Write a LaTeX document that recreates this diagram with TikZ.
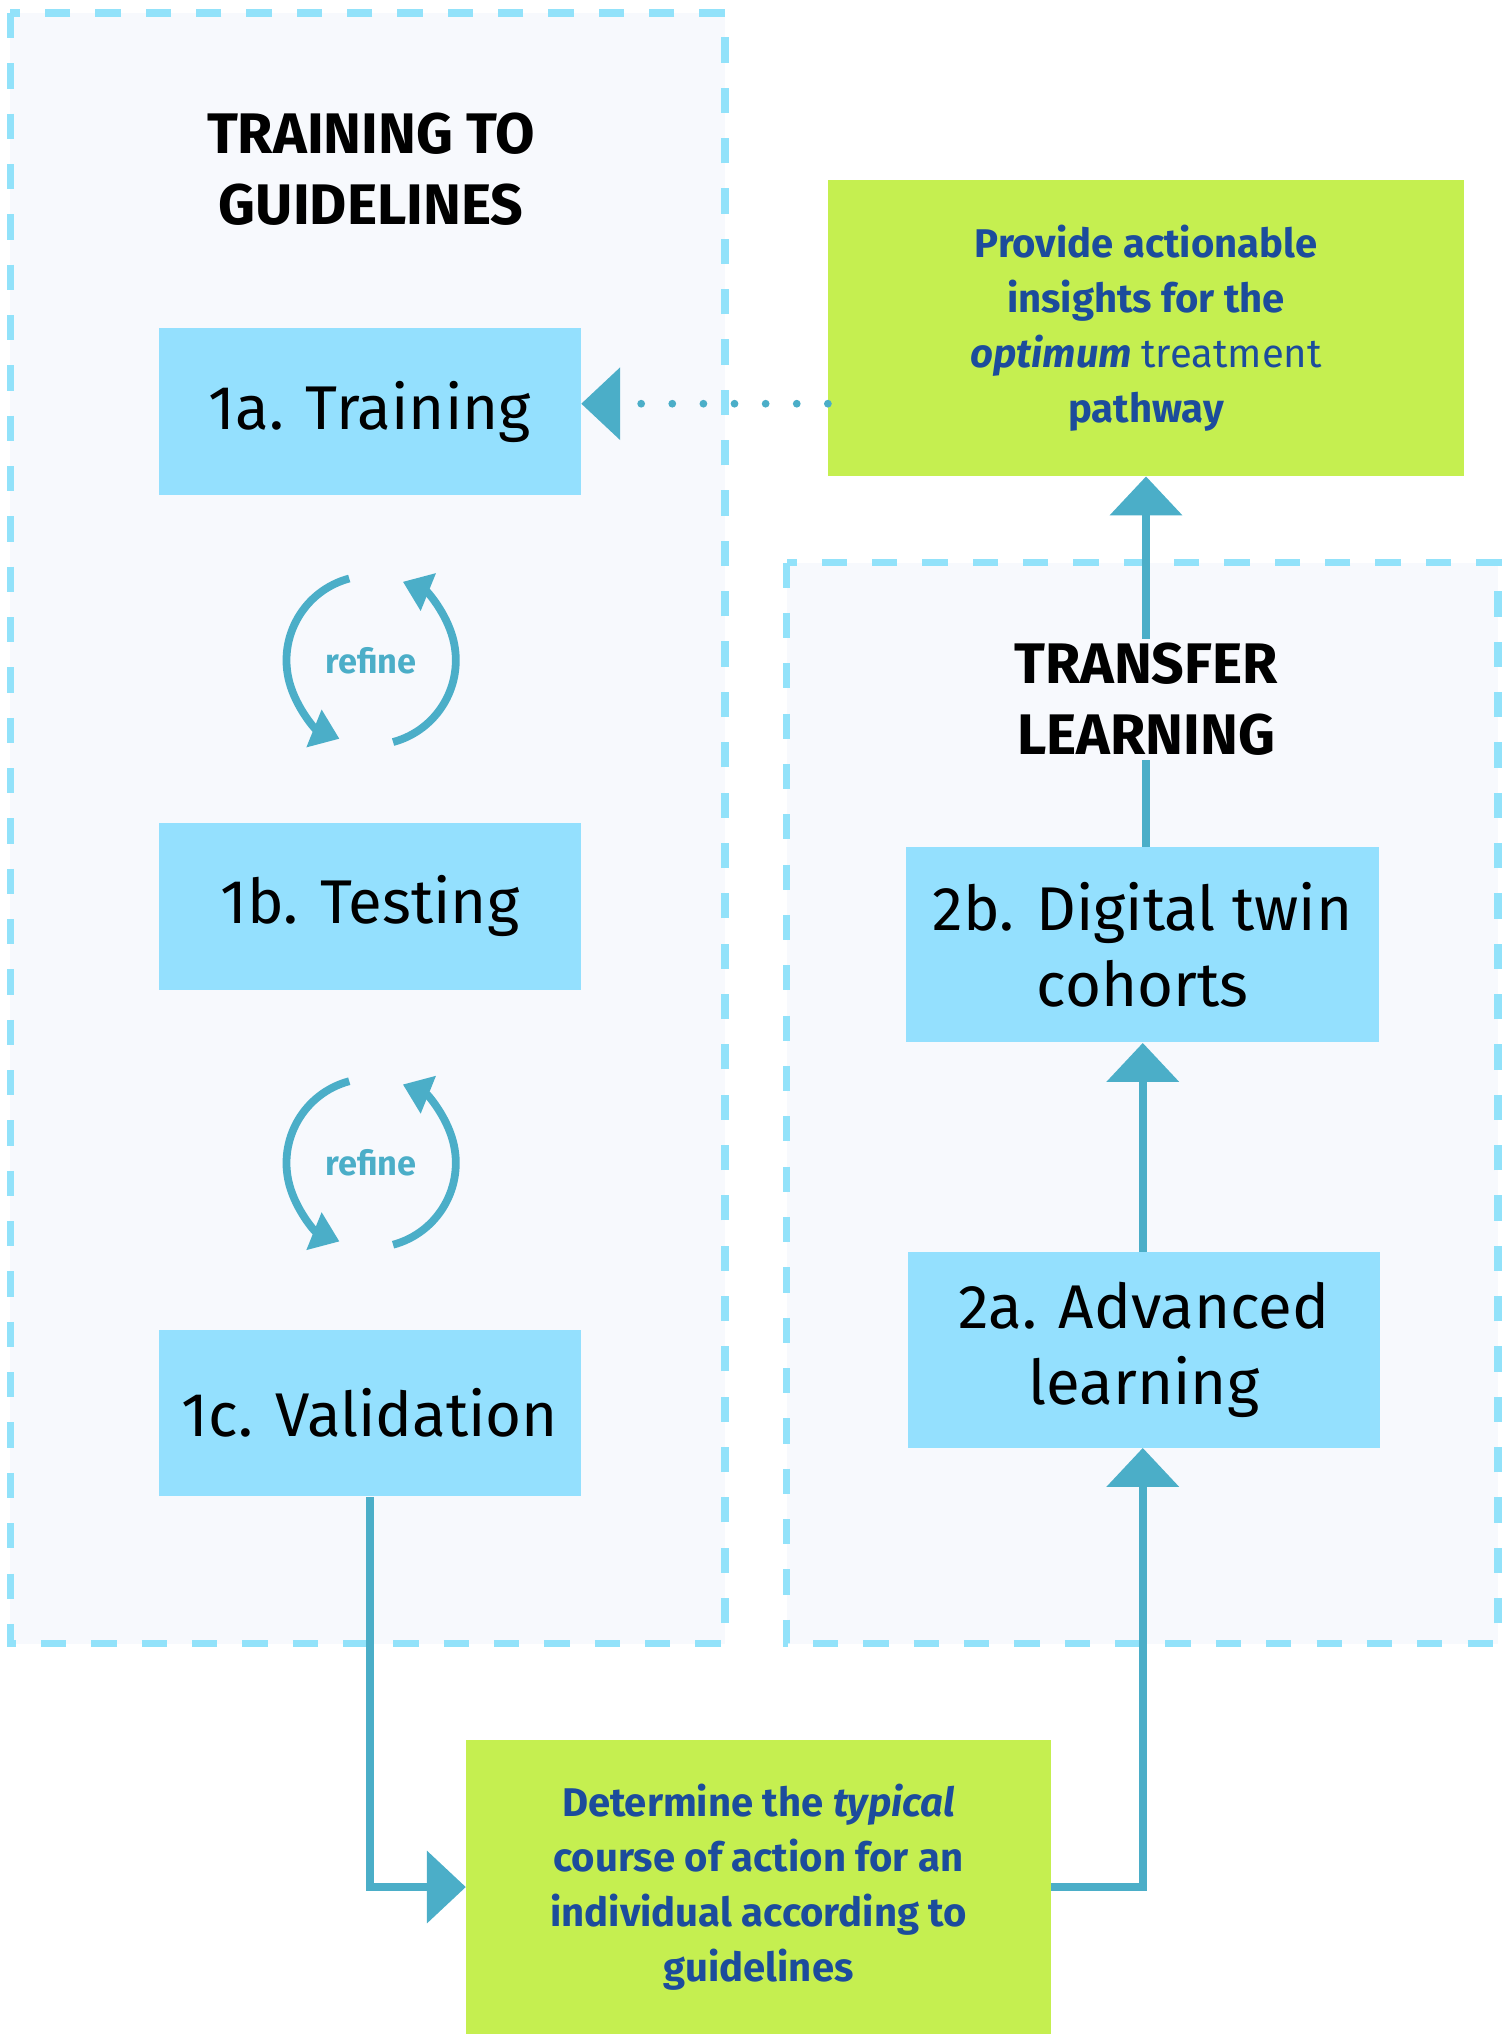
\documentclass[tikz,border=0pt]{standalone}
\usepackage{fontspec}
\setmainfont{Fira Sans}
\usetikzlibrary{arrows.meta}
\definecolor{stepblue}{HTML}{94E0FE}
\definecolor{dashblue}{HTML}{92E2FA}
\definecolor{panelbg}{HTML}{F7F9FD}
\definecolor{goalgreen}{HTML}{C5EF50}
\definecolor{goaltext}{HTML}{1C4C9C}
\definecolor{flowblue}{HTML}{4BAEC8}
\tikzset{
	panel/.style={draw=dashblue, fill=panelbg, line width=3.4pt, dash pattern=on 11pt off 11pt},
	stepbox/.style={fill=stepblue, minimum width=6.48cm, minimum height=2.56cm, font=\fontsize{27}{33}\selectfont, align=center, inner sep=0pt},
	goalbox/.style={fill=goalgreen, text=goaltext, font=\fontsize{17.5}{24}\selectfont\bfseries, align=center, inner sep=0pt},
	paneltitle/.style={font=\fontsize{25}{31}\selectfont\bfseries, align=center},
	flow/.style={draw=flowblue, line width=3.4pt, -{Triangle[width=31pt,length=17pt]}},
	cycle/.style={draw=flowblue, line width=3.4pt, -{Triangle[width=17pt,length=12pt]}},
	refinelabel/.style={text=flowblue, font=\fontsize{15}{18}\selectfont\bfseries}
}
\begin{document}
\begin{tikzpicture}[x=0.02cm, y=0.02cm]
	\useasboundingbox (0,0) rectangle (1160,-1568);
	% panels
	\draw[panel] (8,-10) rectangle (557,-1262);
	\draw[panel] (604,-432) rectangle (1150,-1262);
	\node (TrainTitle) [paneltitle] at (285,-130) {TRAINING TO\\GUIDELINES};
	% steps
	\node (Training) [stepbox] at (284,-316) {1a. Training};
	\node (Testing) [stepbox] at (284,-696) {1b. Testing};
	\node (Validation) [stepbox] at (284,-1085) {1c. Validation};
	\node (Twin) [stepbox, minimum width=7.26cm, minimum height=3cm] at (877.5,-725.5) {2b. Digital twin\\cohorts};
	\node (Advanced) [stepbox, minimum width=7.26cm, minimum height=3cm] at (878.5,-1036.5) {2a. Advanced\\learning};
	% goals
	\node (Insights) [goalbox, minimum width=9.76cm, minimum height=4.54cm] at (880,-252)
		{Provide actionable\\insights for the\\\textit{optimum} \textmd{treatment}\\pathway};
	\node (Typical) [goalbox, minimum width=8.98cm, minimum height=4.52cm] at (582.5,-1449)
		{Determine the \textit{typical}\\course of action for an\\individual according to\\guidelines};
	% connectors
	\draw[flow] (Twin.north -| Insights.south) -- (Insights.south);
	\node (TransferTitle) [paneltitle, fill=panelbg, inner sep=2pt] at (880,-537) {TRANSFER\\LEARNING};
	\draw[flow] (Advanced.north -| Twin.south) -- (Twin.south);
	\draw[flow, dash pattern=on 0pt off 13.6pt, line cap=round] (Insights.west |- 0,-310) -- (Training.east |- 0,-310);
	\draw[flow] (Validation.south) |- (Typical.west);
	\draw[flow] (Typical.east) -| (Advanced.south -| Twin.south);
	% refine loops
	\foreach \cy/\nm in {-507/RefineA, -893/RefineB} {
		\node (\nm) [refinelabel] at (285,\cy) {refine};
		\draw[cycle] (285,\cy) ++(105:65) arc (105:248:65);
		\draw[cycle] (285,\cy) ++(-75:65) arc (-75:68:65);
	}
\end{tikzpicture}
\end{document}
